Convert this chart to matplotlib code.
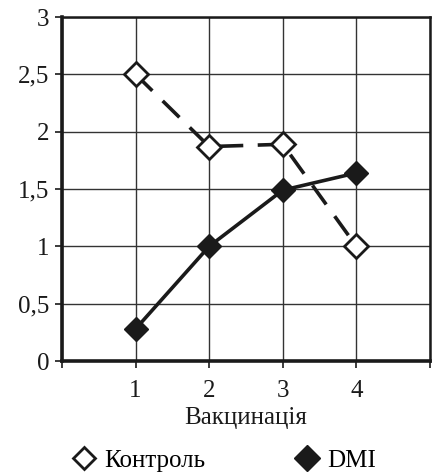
import matplotlib
matplotlib.use("Agg")
import matplotlib.pyplot as plt
from matplotlib.ticker import FuncFormatter
from matplotlib.lines import Line2D

x = [1, 2, 3, 4]
control = [2.5, 1.87, 1.89, 1.0]
dmi = [0.28, 1.0, 1.49, 1.64]
xlabel = "Вакцинація"
labels = ["Контроль", "DMI"]

plt.rcParams['font.family'] = ['Liberation Serif', 'DejaVu Serif']
fig = plt.figure(figsize=(4.32, 4.73), dpi=100)
ax = fig.add_axes([62/432, 1-361/473, (430-62)/432, (361-17)/473])

lw = 2.6
ax.plot(x, control, color='#1a1a1a', lw=lw, dashes=(6.5, 4), marker='D', ms=12,
        mfc='white', mec='#1a1a1a', mew=2, zorder=3)
ax.plot(x, dmi, color='#1a1a1a', lw=lw, marker='D', ms=12,
        mfc='#1a1a1a', mec='#1a1a1a', zorder=3)

ax.set_xlim(0, 5)
ax.set_ylim(0, 3)
ax.set_xticks([0, 1, 2, 3, 4, 5])
ax.set_xticklabels(['', '1', '2', '3', '4', ''])
ax.set_yticks([0, 0.5, 1, 1.5, 2, 2.5, 3])
ax.yaxis.set_major_formatter(FuncFormatter(lambda v, p: ('%g' % v).replace('.', ',')))
ax.grid(True, color='#333333', lw=1)
ax.set_axisbelow(True)
for s in ['left', 'bottom']:
    ax.spines[s].set_linewidth(2.6)
for s in ['top', 'right']:
    ax.spines[s].set_linewidth(1.8)
for s in ax.spines.values():
    s.set_color('#1a1a1a')
ax.tick_params(axis='both', direction='out', length=5, width=1.2, labelsize=18, colors='#1a1a1a')
ax.tick_params(axis='x', pad=9)
ax.tick_params(axis='y', pad=4)
ax.set_xlabel(xlabel, fontsize=18, labelpad=3, color='#1a1a1a')

handles = [Line2D([], [], ls='none', marker='D', ms=11, mfc='white', mec='#1a1a1a', mew=2),
           Line2D([], [], ls='none', marker='D', ms=13, mfc='#1a1a1a', mec='#1a1a1a')]
fig.legend(handles, labels, loc='lower center', bbox_to_anchor=(0.515, -0.045), ncol=2,
           frameon=False, fontsize=18, handletextpad=0.2, columnspacing=3.5, handlelength=1.2)

fig.savefig('out.png', dpi=100)
